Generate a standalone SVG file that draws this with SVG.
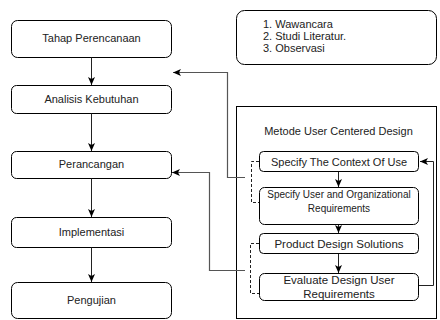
<svg xmlns="http://www.w3.org/2000/svg" width="440" height="320" viewBox="0 0 440 320">
<defs>
<marker id="arr" viewBox="0 0 8 8" refX="8" refY="4" markerWidth="8" markerHeight="8" markerUnits="userSpaceOnUse" orient="auto">
<path d="M0,0.5 L8,4 L0,7.5 L2,4 z" fill="#000"/>
</marker>
<style>
.box{fill:#fff;stroke:#000;stroke-width:1}
.t{font-family:"Liberation Sans",Arial,sans-serif;font-size:11px;fill:#222;text-anchor:middle}
.tl{font-family:"Liberation Sans",Arial,sans-serif;font-size:11px;fill:#222}
.c{fill:none;stroke:#222;stroke-width:1}
.g{fill:none;stroke:#555;stroke-width:1.2}
.d{fill:none;stroke:#222;stroke-width:1;stroke-dasharray:3,2}
</style>
</defs>
<rect width="440" height="320" fill="#fff"/>

<g id="node-tahap"><rect class="box" x="11.5" y="20.5" width="160" height="37" rx="6"/><text class="t" x="91.5" y="42">Tahap Perencanaan</text></g>
<g id="node-analisis"><rect class="box" x="11.5" y="85.5" width="160" height="28" rx="5"/><text class="t" x="91.5" y="103">Analisis Kebutuhan</text></g>
<g id="node-perancangan"><rect class="box" x="11.5" y="151.5" width="160" height="27" rx="5"/><text class="t" x="91.5" y="168">Perancangan</text></g>
<g id="node-implementasi"><rect class="box" x="11.5" y="217.5" width="160" height="30" rx="5"/><text class="t" x="91.5" y="236">Implementasi</text></g>
<g id="node-pengujian"><rect class="box" x="11.5" y="282.5" width="160" height="36" rx="6"/><text class="t" x="91.5" y="304">Pengujian</text></g>

<g id="node-metode-list"><rect class="box" x="236.5" y="10.5" width="200" height="54" rx="8"/>
<text class="tl" x="263" y="28">1. Wawancara</text>
<text class="tl" x="263" y="40">2. Studi Literatur.</text>
<text class="tl" x="263" y="52">3. Observasi</text></g>

<g id="node-ucd"><rect class="box" x="236.5" y="106.5" width="200" height="212"/>
<text class="t" x="338.5" y="135">Metode User Centered Design</text></g>

<g id="connectors">
<path class="c" d="M91.5,57.5 V85" marker-end="url(#arr)"/>
<path class="c" d="M91.5,113.5 V151" marker-end="url(#arr)"/>
<path class="c" d="M91.5,178.5 V217" marker-end="url(#arr)"/>
<path class="c" d="M91.5,247.5 V282" marker-end="url(#arr)"/>
<path class="g" d="M245,177.5 H227.5 V72.5 H173" marker-end="url(#arr)"/>
<path class="g" d="M245,270.5 H209.5 V172.5 H172" marker-end="url(#arr)"/>
<path class="d" d="M259,161.5 H251.5 V202.5 H259"/>
<path class="d" d="M259,243.5 H250.5 V293.5 H259"/>
<path class="c" d="M338.5,171.5 V187" marker-end="url(#arr)"/>
<path class="c" d="M338.5,224.5 V233" marker-end="url(#arr)"/>
<path class="c" d="M338.5,253.5 V273" marker-end="url(#arr)"/>
<path class="c" d="M419,285.5 H433.5 V161.5 H420" marker-end="url(#arr)"/>
</g>

<g id="node-context"><rect class="box" x="259.5" y="151.5" width="159" height="20" rx="4"/><text class="t" x="339" y="165.5">Specify The Context Of Use</text></g>
<g id="node-requirements"><rect class="box" x="259.5" y="187.5" width="159" height="37" rx="5"/><text class="t" x="339" y="198" style="font-size:10px">Specify User and Organizational</text><text class="t" x="339" y="212" style="font-size:10px">Requirements</text></g>
<g id="node-solutions"><rect class="box" x="259.5" y="233.5" width="159" height="20" rx="4"/><text class="t" x="339" y="247.5" style="font-size:11.5px">Product Design Solutions</text></g>
<g id="node-evaluate"><rect class="box" x="259.5" y="273.5" width="159" height="27" rx="5"/><text class="t" x="339" y="284" style="font-size:11.5px">Evaluate Design User</text><text class="t" x="339" y="297.5" style="font-size:11.5px">Requirements</text></g>
</svg>
